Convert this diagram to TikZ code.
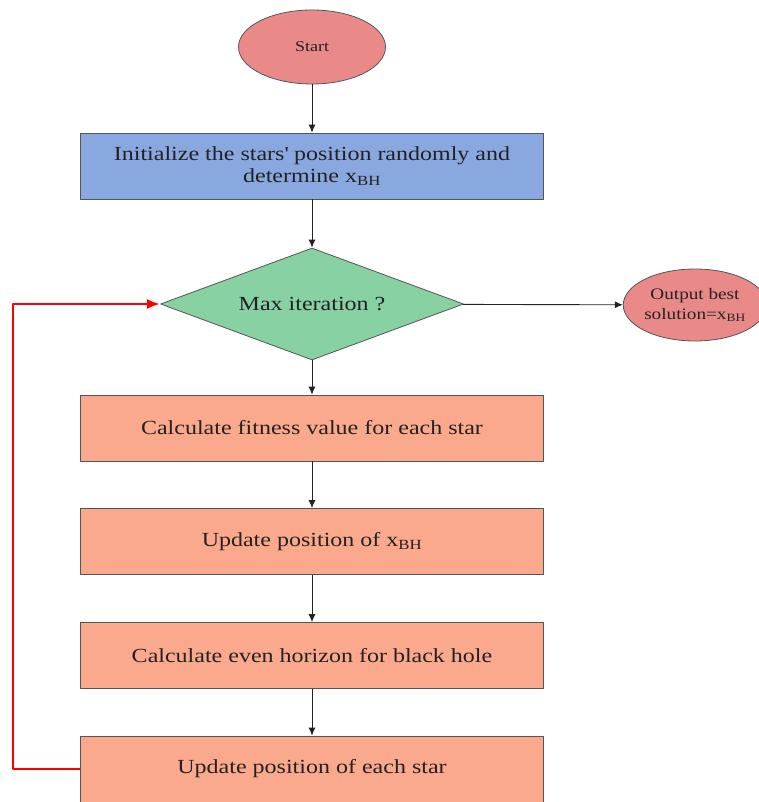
\documentclass[tikz,border=0pt]{standalone}
\usepackage{fontspec}
\setmainfont{Liberation Serif}[FakeStretch=1.2]
\usetikzlibrary{shapes.geometric, arrows.meta}
\definecolor{ink}{HTML}{222222}
\definecolor{edgegray}{HTML}{555555}
\definecolor{termred}{HTML}{EA8A88}
\definecolor{initblue}{HTML}{8AA8E0}
\definecolor{testgreen}{HTML}{88D1A3}
\definecolor{stepsalmon}{HTML}{FBA98C}
\definecolor{loopred}{HTML}{FF0000}
\newcommand{\xbh}{x\textsubscript{BH}}
\tikzset{
  every picture/.style = {line join=round, >={Latex[length=8pt, width=7pt]}},
  terminal/.style      = {ellipse, draw=edgegray, fill=termred, line width=0.8pt,
                          inner sep=0pt, text=ink, align=center},
  stepbox/.style       = {rectangle, draw=edgegray, fill=stepsalmon, line width=0.8pt,
                          minimum width=463pt, minimum height=66pt, inner sep=0pt,
                          text=ink, align=center, font=\fontsize{20}{22}\selectfont},
  test/.style          = {diamond, draw=edgegray, fill=testgreen, line width=0.8pt,
                          minimum width=303pt, minimum height=112pt, aspect=2.7,
                          inner sep=0pt, text=ink, font=\fontsize{20}{22}\selectfont},
  flow/.style          = {->, line width=0.9pt, ink},
  back/.style          = {-{Latex[length=13pt, width=10pt]}, line width=2.6pt, loopred},
}
\begin{document}
\begin{tikzpicture}[x=1pt, y=-1pt]
  \useasboundingbox (0,0) rectangle (759,802);

  % terminals
  \node[terminal, minimum width=147pt, minimum height=74pt,
        font=\fontsize{15}{17}\selectfont] (start) at (312,47) {Start};
  \node[terminal, minimum width=142pt, minimum height=72pt,
        font=\fontsize{16}{20}\selectfont] (output) at (695,305)
        {Output best\\solution=\xbh};

  % main column
  \node[stepbox, fill=initblue] (init) at (312,166)
        {Initialize the stars\textquotesingle\ position randomly and\\determine \xbh};
  \node[test] (maxit) at (312,304) {Max iteration ?};
  \node[stepbox] (fitness) at (312,428) {Calculate fitness value for each star};
  \node[stepbox] (update)  at (312,541.5) {Update position of \xbh};
  \node[stepbox] (horizon) at (312,655.5) {Calculate even horizon for black hole};
  \node[stepbox] (move)    at (312,769) {Update position of each star};

  \draw[flow] (start) -- (init);
  \draw[flow] (init) -- (maxit);
  \draw[flow] (maxit) -- (output);
  \draw[flow] (maxit) -- (fitness);
  \draw[flow] (fitness) -- (update);
  \draw[flow] (update) -- (horizon);
  \draw[flow] (horizon) -- (move);

  % loop back to the test
  \coordinate (bend) at (13,769);
  \draw[back] (move.west) -- (bend) |- (maxit.west);
\end{tikzpicture}
\end{document}
